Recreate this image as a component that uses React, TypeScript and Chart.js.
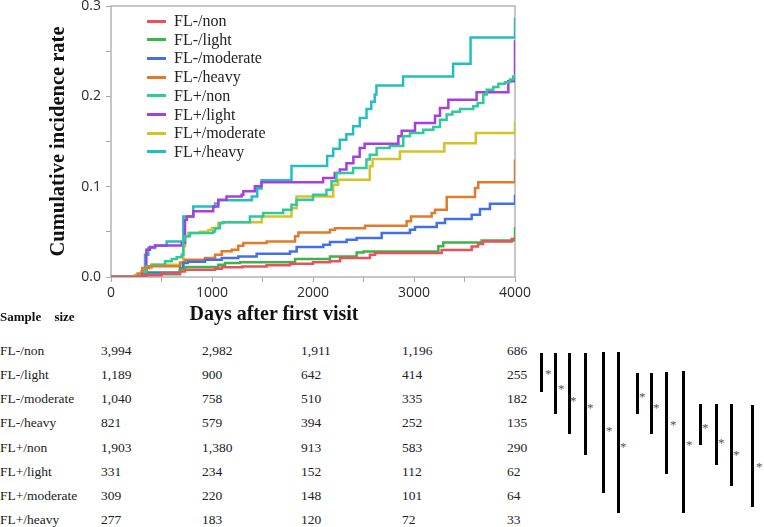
import React, { useEffect, useRef } from 'react';
import { Chart, registerables } from 'chart.js';

Chart.register(...registerables);

// ---------- data ----------
const seriesNames = ['FL-/non', 'FL-/light', 'FL-/moderate', 'FL-/heavy', 'FL+/non', 'FL+/light', 'FL+/moderate', 'FL+/heavy'];
const seriesColors = ['#e8525c', '#3db447', '#4470e6', '#e07b2c', '#2fc99c', '#a63ee0', '#d3c325', '#22bfc2'];

// [days, cumulative incidence] step points (value changes at given day)
const flMinusNon: [number, number][] = [
  [0, 0], [317, 0.002], [500, 0.004], [683, 0.0062], [733, 0.008], [1030, 0.0092], [1096, 0.0107], [1300, 0.0117],
  [1540, 0.013], [1772, 0.0147], [2000, 0.0162], [2168, 0.0173], [2267, 0.021], [2564, 0.0247], [2614, 0.0266],
  [3274, 0.030], [3571, 0.0339], [3634, 0.0365], [3683, 0.0394], [3967, 0.042], [4000, 0.044],
];
const flMinusLight: [number, number][] = [
  [0, 0], [330, 0.003], [683, 0.0089], [733, 0.011], [1063, 0.0136], [1129, 0.0155], [1277, 0.0162], [1822, 0.02],
  [2168, 0.0228], [2432, 0.0272], [2500, 0.0283], [3241, 0.034], [3290, 0.0383], [3670, 0.0405], [4000, 0.055],
];
const flMinusModerate: [number, number][] = [
  [0, 0], [310, 0.003], [376, 0.005], [683, 0.01], [716, 0.0155], [760, 0.017], [931, 0.0192], [1096, 0.021],
  [1260, 0.0228], [1442, 0.0258], [1772, 0.0283], [1838, 0.0332], [2102, 0.0358], [2168, 0.0388], [2333, 0.0413],
  [2432, 0.0432], [2680, 0.0487], [2960, 0.0524], [3010, 0.0554], [3225, 0.0598], [3307, 0.0642], [3571, 0.069],
  [3653, 0.0753], [3752, 0.081], [4000, 0.091],
];
const flMinusHeavy: [number, number][] = [
  [0, 0], [264, 0.004], [310, 0.01], [376, 0.012], [683, 0.016], [733, 0.0192], [931, 0.021], [1030, 0.0247],
  [1096, 0.0284], [1195, 0.0302], [1260, 0.0347], [1310, 0.0376], [1541, 0.0394], [1822, 0.045], [1855, 0.0494],
  [2168, 0.0524], [2218, 0.054], [2515, 0.0568], [2927, 0.0616], [2970, 0.0671], [3175, 0.0709], [3208, 0.0745],
  [3324, 0.0886], [3604, 0.0985], [3636, 0.1048], [4000, 0.13],
];
const flPlusNon: [number, number][] = [
  [0, 0], [320, 0.006], [353, 0.0118], [403, 0.0136], [535, 0.0173], [601, 0.02], [650, 0.022], [700, 0.0247],
  [716, 0.0413], [733, 0.045], [782, 0.0487], [1012, 0.0505], [1030, 0.054], [1079, 0.0598], [1111, 0.0605],
  [1375, 0.067], [1507, 0.0708], [1705, 0.0745], [1787, 0.08], [1837, 0.0856], [2000, 0.091], [2133, 0.0967],
  [2183, 0.106], [2232, 0.115], [2397, 0.1207], [2529, 0.13], [2562, 0.1354], [2630, 0.1428], [2760, 0.145],
  [2894, 0.1557], [2960, 0.1594], [3092, 0.163], [3191, 0.166], [3257, 0.174], [3323, 0.18], [3380, 0.183],
  [3455, 0.186], [3587, 0.189], [3630, 0.1927], [3686, 0.2019], [3720, 0.2074], [3785, 0.2104], [3835, 0.214],
  [3901, 0.2155], [3950, 0.2185], [3983, 0.222], [4000, 0.225],
];
const flPlusLight: [number, number][] = [
  [0, 0], [350, 0.0302], [385, 0.0332], [436, 0.035], [700, 0.0376], [733, 0.0635], [750, 0.067], [815, 0.0727],
  [1012, 0.078], [1062, 0.0856], [1144, 0.089], [1293, 0.0911], [1310, 0.0948], [1424, 0.1004], [1490, 0.105],
  [2100, 0.1096], [2215, 0.115], [2265, 0.119], [2331, 0.126], [2400, 0.133], [2462, 0.1428], [2511, 0.1476],
  [2845, 0.1557], [2878, 0.162], [3010, 0.1705], [3208, 0.1786], [3257, 0.187], [3340, 0.1963], [3620, 0.2044],
  [3934, 0.2166], [4000, 0.262],
];
const flPlusModerate: [number, number][] = [
  [0, 0], [238, 0.0026], [300, 0.006], [350, 0.01], [400, 0.0136], [716, 0.034], [733, 0.045], [766, 0.0487],
  [880, 0.05], [964, 0.052], [1000, 0.0543], [1063, 0.0598], [1111, 0.0605], [1492, 0.067], [1787, 0.076],
  [1837, 0.089], [2200, 0.102], [2249, 0.1077], [2562, 0.1225], [2590, 0.1306], [2861, 0.139], [3300, 0.148],
  [3612, 0.1594], [4000, 0.172],
];
const flPlusHeavy: [number, number][] = [
  [0, 0], [337, 0.0247], [370, 0.032], [436, 0.0347], [551, 0.0394], [716, 0.067], [815, 0.078], [1030, 0.0815],
  [1063, 0.085], [1393, 0.089], [1448, 0.098], [1491, 0.107], [1787, 0.123], [2140, 0.134], [2200, 0.142],
  [2265, 0.152], [2330, 0.158], [2397, 0.167], [2463, 0.176], [2530, 0.186], [2577, 0.194], [2611, 0.202],
  [2628, 0.212], [2892, 0.222], [3387, 0.236], [3560, 0.265], [4000, 0.287],
];
const allSeries = [flMinusNon, flMinusLight, flMinusModerate, flMinusHeavy, flPlusNon, flPlusLight, flPlusModerate, flPlusHeavy];

// numbers at risk (sample size) at 0, 1000, 2000, 3000, 4000 days
const nFlMinusNon = [3994, 2982, 1911, 1196, 686];
const nFlMinusLight = [1189, 900, 642, 414, 255];
const nFlMinusModerate = [1040, 758, 510, 335, 182];
const nFlMinusHeavy = [821, 579, 394, 252, 135];
const nFlPlusNon = [1903, 1380, 913, 583, 290];
const nFlPlusLight = [331, 234, 152, 112, 62];
const nFlPlusModerate = [309, 220, 148, 101, 64];
const nFlPlusHeavy = [277, 183, 120, 72, 33];
const sampleSizes = [nFlMinusNon, nFlMinusLight, nFlMinusModerate, nFlMinusHeavy, nFlPlusNon, nFlPlusLight, nFlPlusModerate, nFlPlusHeavy];

const xTicksMajor = 1000;
const yTicksMajor = 0.1;
const xTitle = 'Days after first visit';
const yTitle = 'Cumulative incidence rate';

// ---------- layout (annotation) ----------
const tableCols = [101, 202, 301, 402, 507];
const tableRow0 = 351;
const tableRowStep = 24.15;
// significance bars: [x, top, bottom, starX, starY]
const sigBars: [number, number, number, number, number][] = [
  [541, 353, 392, 549, 372], [555, 353, 414, 562, 387], [569, 353, 434, 574, 399], [585, 353, 455, 591, 406],
  [603, 352, 493, 610, 429], [618, 352, 513, 624, 445], [637, 373, 414, 643, 395], [651, 373, 434, 657, 406],
  [666, 372, 474, 674, 423], [683, 371, 513, 690, 443], [700, 404, 445, 706, 426], [716, 404, 465, 722, 441],
  [731, 404, 486, 737, 453], [752, 405, 507, 760, 465],
];

const serif = '"Liberation Serif", "Times New Roman", serif';
const sans = '"Open Sans", "Noto Sans", sans-serif';

const framePlugin = {
  id: 'frame',
  beforeDatasetsDraw(chart: any) {
    const { ctx, chartArea: a } = chart;
    ctx.save();
    ctx.strokeStyle = '#b4b4b4';
    ctx.lineWidth = 1.5;
    ctx.strokeRect(a.left, a.top, a.right - a.left, a.bottom - a.top);
    ctx.restore();
  },
};

function KMChart() {
  const ref = useRef<HTMLCanvasElement | null>(null);
  useEffect(() => {
    if (!ref.current) return;
    const chart = new Chart(ref.current, {
      type: 'line',
      data: {
        datasets: allSeries.map((s, i) => ({
          label: seriesNames[i],
          data: s.map(([x, y]) => ({ x, y })),
          borderColor: seriesColors[i],
          backgroundColor: seriesColors[i],
          borderWidth: 2.5,
          pointRadius: 0,
          stepped: true,
          fill: false,
          tension: 0,
        })),
      },
      options: {
        responsive: false,
        animation: false,
        devicePixelRatio: 1,
        layout: { padding: { left: 0, right: 249, top: 26, bottom: 0 } },
        plugins: { legend: { display: false }, tooltip: { enabled: false } },
        scales: {
          x: {
            type: 'linear',
            min: 0,
            max: 4000,
            border: { display: false },
            grid: { display: true, drawOnChartArea: false, drawTicks: true, tickLength: 5, color: '#a8a8a8' },
            ticks: {
              stepSize: 500,
              autoSkip: false,
              maxRotation: 0,
              padding: 3,
              color: '#2a2a2a',
              font: { family: sans, size: 14 },
              callback: (v: any) => (Number(v) % xTicksMajor === 0 ? String(v) : ''),
            },
            title: { display: false },
            afterFit: (s: any) => { s.height = 53; },
          },
          y: {
            min: 0,
            max: 0.3,
            border: { display: false },
            grid: { display: true, drawOnChartArea: false, drawTicks: true, tickLength: 5, color: '#a8a8a8' },
            ticks: {
              stepSize: 0.05,
              autoSkip: false,
              padding: 5,
              color: '#2a2a2a',
              font: { family: sans, size: 14 },
              callback: (v: any) => {
                const n = Number(v) / yTicksMajor;
                return Math.abs(n - Math.round(n)) < 1e-6 ? Number(v).toFixed(1) : '';
              },
            },
            title: {
              display: true,
              text: yTitle,
              color: '#111',
              font: { family: serif, size: 20.5, weight: 'bold' },
              padding: { top: 46, bottom: 0 },
            },
            afterFit: (s: any) => { s.width = 111; },
          },
        },
      } as any,
      plugins: [framePlugin],
    });
    return () => chart.destroy();
  }, []);
  return (
    <canvas ref={ref} width={764} height={350} style={{ position: 'absolute', left: 0, top: -20, width: 764, height: 350 }} />
  );
}

export default function App() {
  return (
    <div style={{ position: 'fixed', left: 0, top: 0, width: 764, height: 527, background: '#fff', overflow: 'hidden' }}>
      <KMChart />
      {/* x axis title */}
      <div style={{ position: 'absolute', left: 274, top: 301, transform: 'translateX(-50%)', lineHeight: '24px', fontFamily: serif, fontSize: 20, fontWeight: 'bold', color: '#111', whiteSpace: 'nowrap' }}>
        {xTitle}
      </div>
      {/* legend */}
      {seriesNames.map((name, i) => (
        <div key={name} style={{ position: 'absolute', left: 147, top: 21 + i * 18.7 - 10, height: 20, display: 'flex', alignItems: 'center', fontFamily: serif, fontSize: 16, color: '#222', whiteSpace: 'nowrap' }}>
          <span style={{ display: 'inline-block', width: 19, height: 3, background: seriesColors[i], marginRight: 8 }} />
          <span>{name}</span>
        </div>
      ))}
      {/* table header */}
      <div style={{ position: 'absolute', left: 0, top: 309, fontFamily: serif, fontSize: 13, fontWeight: 'bold', color: '#111', wordSpacing: 10, whiteSpace: 'nowrap' }}>
        Sample size
      </div>
      {/* table body */}
      {sampleSizes.map((row, r) => (
        <React.Fragment key={r}>
          <div style={{ position: 'absolute', left: 0, top: tableRow0 + r * tableRowStep - 9, lineHeight: '18px', fontFamily: serif, fontSize: 13.5, color: '#222', whiteSpace: 'nowrap' }}>
            {seriesNames[r]}
          </div>
          {row.map((v, c) => (
            <div key={c} style={{ position: 'absolute', left: tableCols[c], top: tableRow0 + r * tableRowStep - 9, lineHeight: '18px', fontFamily: serif, fontSize: 13.5, color: '#222', whiteSpace: 'nowrap' }}>
              {v.toLocaleString('en-US')}
            </div>
          ))}
        </React.Fragment>
      ))}
      {/* significance bars */}
      {sigBars.map(([x, t, b, sx, sy], i) => (
        <React.Fragment key={'s' + i}>
          <div style={{ position: 'absolute', left: x - 1.5, top: t, width: 3, height: b - t, background: '#000' }} />
          <div style={{ position: 'absolute', left: sx - 4, top: sy - 5, lineHeight: '14px', fontFamily: serif, fontSize: 13, color: '#555' }}>*</div>
        </React.Fragment>
      ))}
    </div>
  );
}
